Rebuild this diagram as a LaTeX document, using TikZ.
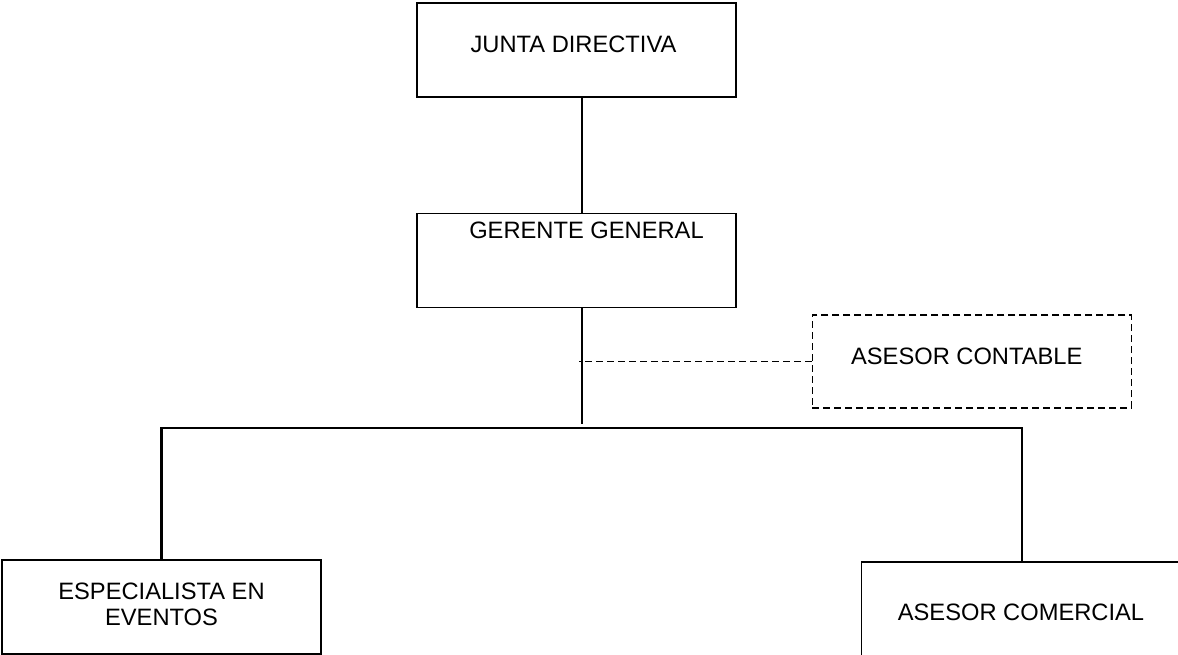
\documentclass[tikz,border=0pt]{standalone}
\usepackage{fontspec}
\setmainfont{Liberation Sans}
\usetikzlibrary{positioning}
\tikzset{puesto/.style = {draw, line width=1.7pt, minimum width=319pt,
                          minimum height=94pt, inner sep=0pt, align=center,
                          font=\fontsize{23.7}{25.5}\selectfont},
         rotulo/.style = {inner sep=0pt, font=\fontsize{23.7}{25.5}\selectfont},
         enlace/.style = {line width=2.3pt},
         asesoria/.style = {line width=1.2pt, dash pattern=on 7pt off 4pt}}

\begin{document}
\begin{tikzpicture}[x=1pt, y=-1pt]
      \useasboundingbox (0, 0) rectangle (1178, 655);

      \node [puesto, label={[rotulo, anchor=north, xshift=-3pt, yshift=-34pt]north:JUNTA DIRECTIVA}] (junta) at (576.5, 50) {};
      \node [puesto, label={[rotulo, anchor=north, xshift=10pt, yshift=-9pt]north:GERENTE GENERAL}] (gerente) at (576.5, 260.5) {};
      \node [puesto, asesoria, minimum height=93pt, label={[rotulo, anchor=north, xshift=-5pt, yshift=-33pt]north:ASESOR CONTABLE}] (contable) at (971.75, 361.5) {};
      \node [puesto, text depth=6pt] (especialista) at (161.5, 607) {ESPECIALISTA EN\\EVENTOS};
      \node [puesto, label={[rotulo, anchor=north, yshift=-43pt]north:ASESOR COMERCIAL}] (comercial) at (1021, 609) {};

      \coordinate (tronco) at (582, 0);
      \coordinate (cruce) at (582, 424);
      \coordinate (barra) at (0, 428);

      \draw [enlace] (junta.south -| tronco) -- (gerente.north -| tronco);
      \draw [enlace] (gerente.south -| tronco) -- (cruce);
      \draw [asesoria] (contable.west) -- ([xshift=-3pt]contable.west -| tronco);
      \draw [enlace] (especialista.north) -- (especialista.north |- barra)
                  -- ([xshift=1pt]comercial.north |- barra) -- ([xshift=1pt]comercial.north);
\end{tikzpicture}
\end{document}
